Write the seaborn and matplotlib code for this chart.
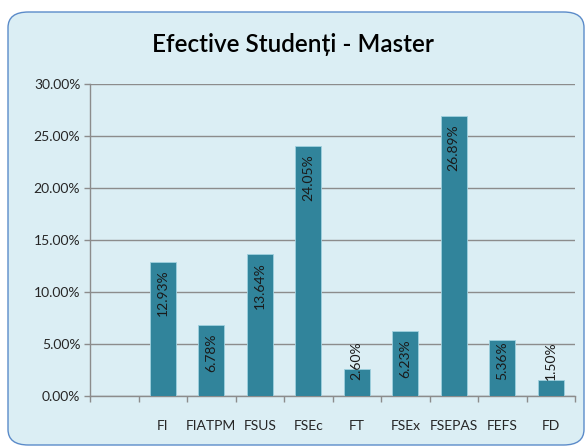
import matplotlib
matplotlib.use("Agg")
import matplotlib.pyplot as plt
import pandas as pd
import seaborn as sns
from matplotlib.patches import FancyBboxPatch
from matplotlib.ticker import FixedLocator, PercentFormatter

# data (percent of master students per faculty)
facultati = ["", "FI", "FIATPM", "FSUS", "FSEc", "FT", "FSEx", "FSEPAS", "FEFS", "FD"]
procente = [None, 12.93, 6.78, 13.64, 24.05, 2.60, 6.23, 26.89, 5.36, 1.50]
y_ticks = [0, 5, 10, 15, 20, 25, 30]
titlu = "Efective Studenți - Master"

df = pd.DataFrame({"facultate": facultati, "procent": procente})

sns.set_theme(style="white")
plt.rcParams["font.family"] = ["Lato", "DejaVu Sans"]

bg = "#DBEEF4"
bar_color = "#31849B"

fig = plt.figure(figsize=(5.85, 4.46), dpi=100)
fig.patch.set_facecolor("white")

# rounded chart area box
box = FancyBboxPatch((8 / 585, 1 / 446), 576 / 585, 433 / 446,
                     boxstyle="round,pad=0,rounding_size=0.035",
                     transform=fig.transFigure, facecolor=bg,
                     edgecolor="#5B8BC9", linewidth=1.0, zorder=-5)
fig.patches.append(box)

ax = fig.add_axes([90 / 585, 1 - 396 / 446, 485 / 585, 312 / 446])
ax.set_facecolor("none")
ax.set_zorder(2)

sns.barplot(data=df, x="facultate", y="procent", order=facultati,
            color=bar_color, saturation=1, width=0.54,
            edgecolor="#9FD0DE", linewidth=0.6, ax=ax, zorder=3)

ax.set_ylim(0, 30)
ax.set_xlim(-0.5, len(facultati) - 0.5)
ax.yaxis.set_major_locator(FixedLocator(y_ticks))
ax.yaxis.set_major_formatter(PercentFormatter(decimals=2))
ax.grid(axis="y", color="#8C8C8C", linewidth=1, zorder=0)
ax.set_axisbelow(True)

for s in ["top", "right"]:
    ax.spines[s].set_visible(False)
for s in ["left", "bottom"]:
    ax.spines[s].set_color("#8C8C8C")
    ax.spines[s].set_linewidth(1)

ax.tick_params(axis="y", which="major", length=4, width=1, color="#8C8C8C",
               labelsize=10, labelcolor="#262626", pad=3, left=True)
ax.tick_params(axis="x", which="major", length=0, labelsize=10,
               labelcolor="#262626", pad=17)
ax.xaxis.set_minor_locator(FixedLocator([i + 0.5 for i in range(-1, len(facultati))]))
ax.tick_params(axis="x", which="minor", length=4, width=1, color="#8C8C8C", bottom=True)
ax.set_xlabel("")
ax.set_ylabel("")

# rotated value labels inside the bar ends
for i, v in enumerate(procente):
    if v is None:
        continue
    y_top = max(v - 0.8, 5.3)
    ax.text(i, y_top, f"{v:.2f}%", rotation=90, ha="center", va="top",
            fontsize=10, color="#1a1a1a", zorder=4)

fig.text(0.5, 1 - 45 / 446, titlu, ha="center", va="center",
         fontsize=17.5, fontweight="semibold", color="black")

fig.savefig("out.png", dpi=100, facecolor=fig.get_facecolor())
